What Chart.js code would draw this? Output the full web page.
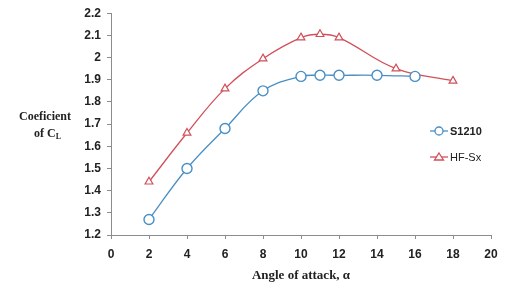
<!DOCTYPE html>
<html lang="en">
  <head>
    <meta charset="UTF-8" />
    <title>Coeficient of CL</title>
    <style>
      html, body { margin: 0; padding: 0; background: #fff; }
      #wrap { position: relative; width: 507px; height: 295px; }
    </style>
  </head>
  <body>
    <div id="wrap"><canvas id="chart" width="507" height="295"></canvas></div>

    <script src="https://cdn.jsdelivr.net/npm/chart.js@4.4.0/dist/chart.umd.min.js"></script>
    <script>
      // data
      const seriesNames = ["S1210", "HF-Sx"];
      const angleS1210 = [2, 4, 6, 8, 10, 11, 12, 14, 16];
      const clS1210 = [1.27, 1.5, 1.68, 1.85, 1.915, 1.92, 1.92, 1.92, 1.915];
      const angleHF = [2, 4, 6, 8, 10, 11, 12, 15, 18];
      const clHF = [1.44, 1.66, 1.86, 1.995, 2.09, 2.105, 2.09, 1.95, 1.895];
      const xTicks = [0, 2, 4, 6, 8, 10, 12, 14, 16, 18, 20];
      const yTicks = [1.2, 1.3, 1.4, 1.5, 1.6, 1.7, 1.8, 1.9, 2, 2.1, 2.2];

      const blue = "#4a8fc4";
      const red = "#d2505a";
      const axisGray = "#8c8c8c";

      const toPoints = (xs, ys) => xs.map((x, i) => ({ x: x, y: ys[i] }));

      // legend + horizontal y title drawn on canvas
      const extras = {
        id: "extras",
        afterDraw(chart) {
          const c = chart.ctx;
          c.save();
          // legend
          const items = [
            { y: 131, color: blue, shape: "circle" },
            { y: 157, color: red, shape: "triangle" },
          ];
          items.forEach((it, i) => {
            c.strokeStyle = it.color;
            c.lineWidth = 1.3;
            c.beginPath();
            c.moveTo(430, it.y);
            c.lineTo(448, it.y);
            c.stroke();
            c.fillStyle = "#fff";
            c.beginPath();
            if (it.shape === "circle") {
              c.arc(439, it.y, 4, 0, Math.PI * 2);
            } else {
              c.moveTo(439, it.y - 4);
              c.lineTo(443.5, it.y + 3);
              c.lineTo(434.5, it.y + 3);
              c.closePath();
            }
            c.fill();
            c.stroke();
            c.fillStyle = "#222";
            c.font = (i === 0 ? "bold " : "") + "11px 'Liberation Sans', sans-serif";
            c.textAlign = "left";
            c.textBaseline = "middle";
            c.fillText(seriesNames[i], 450, it.y + 1);
          });
          // y axis title
          c.fillStyle = "#222";
          c.font = "bold 12px 'Liberation Serif', serif";
          c.textAlign = "center";
          c.textBaseline = "middle";
          c.fillText("Coeficient", 45, 117);
          c.textAlign = "left";
          c.fillText("of C", 34, 134);
          const w = c.measureText("of C").width;
          c.font = "bold 8px 'Liberation Serif', serif";
          c.fillText("L", 34 + w, 137);
          c.restore();
        },
      };

      new Chart(document.getElementById("chart"), {
        type: "line",
        data: {
          datasets: [
            {
              label: seriesNames[0],
              data: toPoints(angleS1210, clS1210),
              borderColor: blue,
              backgroundColor: "#fff",
              borderWidth: 1.3,
              pointStyle: "circle",
              pointRadius: 5,
              pointBorderWidth: 1.4,
              tension: 0.4,
            },
            {
              label: seriesNames[1],
              data: toPoints(angleHF, clHF),
              borderColor: red,
              backgroundColor: "#fff",
              borderWidth: 1.3,
              pointStyle: "triangle",
              pointRadius: 4.5,
              pointBorderWidth: 1.2,
              tension: 0.4,
            },
          ],
        },
        options: {
          responsive: false,
          animation: false,
          layout: { padding: { left: 0, right: 16, top: 13, bottom: 0 } },
          plugins: { legend: { display: false }, tooltip: { enabled: false } },
          scales: {
            x: {
              type: "linear",
              min: 0,
              max: 20,
              afterBuildTicks: (s) => { s.ticks = xTicks.map((v) => ({ value: v })); },
              afterFit: (s) => { s.height = 60; },
              grid: { drawOnChartArea: false, drawTicks: true, tickLength: 4, color: axisGray },
              border: { color: axisGray, width: 1 },
              ticks: {
                color: "#222",
                padding: 8,
                font: { family: "'Liberation Sans', sans-serif", size: 12, weight: "bold" },
              },
              title: {
                display: true,
                text: "Angle of attack, α",
                color: "#222",
                font: { family: "'Liberation Serif', serif", size: 13, weight: "bold" },
                padding: { top: 0, bottom: 12 },
              },
            },
            y: {
              min: 1.2,
              max: 2.2,
              afterBuildTicks: (s) => { s.ticks = yTicks.map((v) => ({ value: v })); },
              afterFit: (s) => { s.width = 111; },
              grid: { drawOnChartArea: false, drawTicks: true, tickLength: 4, color: axisGray },
              border: { color: axisGray, width: 1 },
              ticks: {
                color: "#222",
                padding: 6,
                callback: (v) => String(parseFloat(v.toFixed(1))),
                font: { family: "'Liberation Sans', sans-serif", size: 12, weight: "bold" },
              },
            },
          },
        },
        plugins: [extras],
      });
    </script>
  </body>
</html>
